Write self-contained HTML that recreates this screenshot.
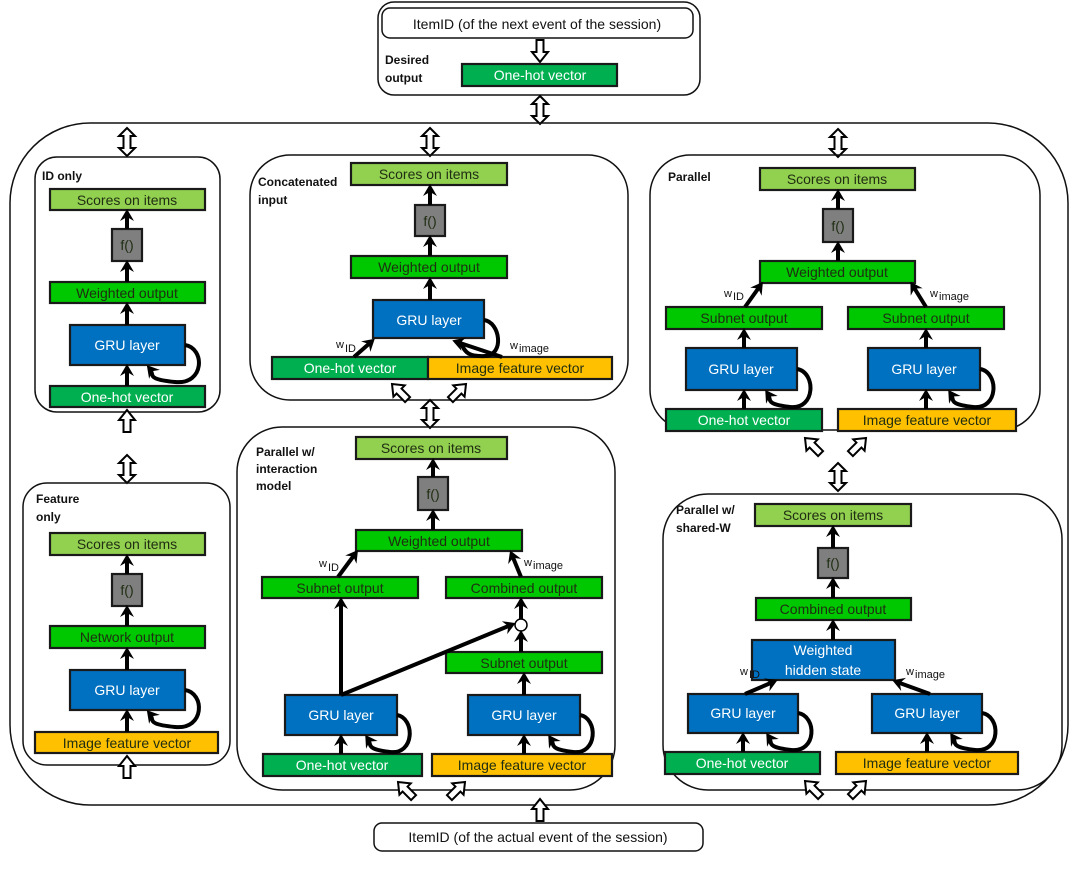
<!DOCTYPE html>
<html><head><meta charset="utf-8"><style>
html,body{margin:0;padding:0;background:#fff;}
svg{display:block;}
text{font-family:"Liberation Sans",sans-serif;}
.t{font-size:14px;text-anchor:middle;dominant-baseline:central;}
.w{fill:#fff}.d{fill:#1f2d12}
.lb{font-size:12px;font-weight:bold;fill:#111}
.sub{font-size:11px;fill:#111}
.bx{stroke:#1a1a1a;stroke-width:2.2}
.ln{stroke:#000;stroke-width:4;fill:none}
.pn{fill:none;stroke:#111;stroke-width:1.5}
.ha{fill:#fff;stroke:#000;stroke-width:2}
</style></head><body>
<svg width="1080" height="879" viewBox="0 0 1080 879" xmlns="http://www.w3.org/2000/svg">
<defs>
<marker id="ah" markerUnits="userSpaceOnUse" markerWidth="16" markerHeight="16" refX="8" refY="8" orient="auto">
<path d="M1,1 L13,8 L1,15 L5,8 Z" fill="#000"/>
</marker>
<g id="up"><polygon class="ha" points="-8,10 0,0 8,10 3.5,10 3.5,22 -3.5,22 -3.5,10"/></g>
<g id="dn"><polygon class="ha" points="-8,12 0,22 8,12 3.5,12 3.5,0 -3.5,0 -3.5,12"/></g>
<g id="dbl"><polygon class="ha" points="0,0 8,8 3.5,8 3.5,20 8,20 0,28 -8,20 -3.5,20 -3.5,8 -8,8"/></g>
</defs>

<!-- top -->
<rect class="pn" x="378" y="2" width="322" height="93" rx="16"/>
<rect class="pn" x="382" y="8" width="311" height="30" rx="8"/>
<text class="t" x="537" y="24" fill="#111">ItemID (of the next event of the session)</text>
<use href="#dn" x="540" y="40"/>
<text class="lb" x="385" y="64">Desired</text><text class="lb" x="385" y="82">output</text>
<rect class="bx" x="462" y="64" width="155" height="22" fill="#00B050"/>
<text class="t w" x="540" y="75">One-hot vector</text>
<use href="#dbl" x="540" y="96"/>

<!-- big -->
<rect class="pn" x="10" y="123" width="1058" height="682" rx="80"/>
<use href="#dbl" x="127" y="128"/>
<use href="#dbl" x="430" y="128"/>
<use href="#dbl" x="838" y="129"/>

<!-- ID only -->
<rect class="pn" x="35" y="157" width="185" height="255" rx="22"/>
<text class="lb" x="42" y="180">ID only</text>
<rect class="bx" x="50" y="189" width="155" height="21" fill="#92D050"/><text class="t d" x="127" y="200">Scores on items</text>
<rect class="bx" x="112" y="229" width="30" height="32" fill="#7F7F7F"/><text class="t d" x="127" y="245">f()</text>
<rect class="bx" x="50" y="282" width="155" height="21" fill="#00C800"/><text class="t d" x="127" y="293">Weighted output</text>
<rect class="bx" x="70" y="325" width="115" height="40" fill="#0070C0"/><text class="t w" x="127" y="345">GRU layer</text>
<rect class="bx" x="50" y="386" width="155" height="21" fill="#00B050"/><text class="t w" x="127" y="397">One-hot vector</text>
<line class="ln" x1="127" y1="229" x2="127" y2="214" marker-end="url(#ah)"/>
<line class="ln" x1="127" y1="282" x2="127" y2="265" marker-end="url(#ah)"/>
<line class="ln" x1="127" y1="325" x2="127" y2="307" marker-end="url(#ah)"/>
<line class="ln" x1="127" y1="386" x2="127" y2="369" marker-end="url(#ah)"/>
<path class="ln" d="M185,345 C205,348 205,385 175,382 S155,375 150,369" marker-end="url(#ah)"/>
<use href="#up" x="127" y="410"/>
<use href="#dbl" x="127" y="455"/>

<!-- Feature only -->
<rect class="pn" x="23" y="483" width="207" height="282" rx="24"/>
<text class="lb" x="36" y="503">Feature</text><text class="lb" x="36" y="521">only</text>
<rect class="bx" x="50" y="533" width="155" height="22" fill="#92D050"/><text class="t d" x="127" y="544">Scores on items</text>
<rect class="bx" x="112" y="574" width="30" height="32" fill="#7F7F7F"/><text class="t d" x="127" y="590">f()</text>
<rect class="bx" x="50" y="626" width="155" height="22" fill="#00C800"/><text class="t d" x="127" y="637">Network output</text>
<rect class="bx" x="70" y="670" width="115" height="40" fill="#0070C0"/><text class="t w" x="127" y="690">GRU layer</text>
<rect class="bx" x="35" y="732" width="183" height="21" fill="#FFC000"/><text class="t d" x="127" y="743">Image feature vector</text>
<line class="ln" x1="127" y1="574" x2="127" y2="559" marker-end="url(#ah)"/>
<line class="ln" x1="127" y1="626" x2="127" y2="610" marker-end="url(#ah)"/>
<line class="ln" x1="127" y1="670" x2="127" y2="652" marker-end="url(#ah)"/>
<line class="ln" x1="127" y1="732" x2="127" y2="714" marker-end="url(#ah)"/>
<path class="ln" d="M185,690 C205,693 205,730 175,727 S155,720 150,714" marker-end="url(#ah)"/>
<use href="#up" x="127" y="756"/>

<!-- Concatenated -->
<rect class="pn" x="250" y="155" width="378" height="245" rx="40"/>
<text class="lb" x="258" y="186">Concatenated</text><text class="lb" x="258" y="204">input</text>
<rect class="bx" x="351" y="163" width="156" height="22" fill="#92D050"/><text class="t d" x="429" y="174">Scores on items</text>
<rect class="bx" x="415" y="205" width="30" height="31" fill="#7F7F7F"/><text class="t d" x="430" y="221">f()</text>
<rect class="bx" x="351" y="256" width="156" height="22" fill="#00C800"/><text class="t d" x="429" y="267">Weighted output</text>
<rect class="bx" x="373" y="300" width="111" height="38" fill="#0070C0"/><text class="t w" x="429" y="320">GRU layer</text>
<rect class="bx" x="272" y="357" width="156" height="22" fill="#00B050"/><text class="t w" x="350" y="368">One-hot vector</text>
<rect class="bx" x="428" y="357" width="184" height="22" fill="#FFC000"/><text class="t d" x="520" y="368">Image feature vector</text>
<line class="ln" x1="430" y1="205" x2="430" y2="189" marker-end="url(#ah)"/>
<line class="ln" x1="430" y1="256" x2="430" y2="240" marker-end="url(#ah)"/>
<line class="ln" x1="430" y1="300" x2="430" y2="282" marker-end="url(#ah)"/>
<line class="ln" x1="354" y1="357" x2="371" y2="342" marker-end="url(#ah)"/>
<line class="ln" x1="502" y1="357" x2="457" y2="342" marker-end="url(#ah)"/>
<path class="ln" d="M484,320 C500,322 505,355 485,356 S465,350 460,342"/>
<text class="sub" x="336" y="348">w</text><text class="sub" x="345" y="352" font-size="9">ID</text>
<text class="sub" x="510" y="349">w</text><text class="sub" x="519" y="352" font-size="9">image</text>
<use href="#up" x="0" y="0" transform="translate(392,384) rotate(-45)"/>
<use href="#up" x="0" y="0" transform="translate(466,384) rotate(45)"/>
<use href="#dbl" x="430" y="400"/>

<!-- Parallel w/ interaction -->
<rect class="pn" x="237" y="427" width="378" height="363" rx="45"/>
<text class="lb" x="256" y="456">Parallel w/</text><text class="lb" x="256" y="473">interaction</text><text class="lb" x="256" y="490">model</text>
<rect class="bx" x="356" y="437" width="151" height="22" fill="#92D050"/><text class="t d" x="431" y="448">Scores on items</text>
<rect class="bx" x="418" y="477" width="30" height="33" fill="#7F7F7F"/><text class="t d" x="433" y="494">f()</text>
<rect class="bx" x="356" y="530" width="166" height="21" fill="#00C800"/><text class="t d" x="439" y="541">Weighted output</text>
<rect class="bx" x="262" y="577" width="156" height="21" fill="#00C800"/><text class="t d" x="340" y="588">Subnet output</text>
<rect class="bx" x="446" y="577" width="156" height="21" fill="#00C800"/><text class="t d" x="524" y="588">Combined output</text>
<circle cx="521" cy="625" r="6" fill="#fff" stroke="#000" stroke-width="1.5"/>
<rect class="bx" x="446" y="652" width="156" height="21" fill="#00C800"/><text class="t d" x="524" y="663">Subnet output</text>
<rect class="bx" x="285" y="695" width="112" height="40" fill="#0070C0"/><text class="t w" x="341" y="715">GRU layer</text>
<rect class="bx" x="468" y="695" width="112" height="40" fill="#0070C0"/><text class="t w" x="524" y="715">GRU layer</text>
<rect class="bx" x="263" y="754" width="159" height="22" fill="#00B050"/><text class="t w" x="342" y="765">One-hot vector</text>
<rect class="bx" x="432" y="754" width="180" height="22" fill="#FFC000"/><text class="t d" x="522" y="765">Image feature vector</text>
<line class="ln" x1="433" y1="477" x2="433" y2="463" marker-end="url(#ah)"/>
<line class="ln" x1="433" y1="530" x2="433" y2="514" marker-end="url(#ah)"/>
<line class="ln" x1="338" y1="577" x2="355" y2="554" marker-end="url(#ah)"/>
<line class="ln" x1="521" y1="577" x2="512" y2="555" marker-end="url(#ah)"/>
<line class="ln" x1="341" y1="695" x2="341" y2="602" marker-end="url(#ah)"/>
<line class="ln" x1="341" y1="695" x2="511" y2="625" marker-end="url(#ah)"/>
<line class="ln" x1="521" y1="619" x2="521" y2="602" marker-end="url(#ah)"/>
<line class="ln" x1="521" y1="652" x2="521" y2="635" marker-end="url(#ah)"/>
<line class="ln" x1="524" y1="695" x2="524" y2="677" marker-end="url(#ah)"/>
<line class="ln" x1="341" y1="754" x2="341" y2="739" marker-end="url(#ah)"/>
<line class="ln" x1="524" y1="754" x2="524" y2="739" marker-end="url(#ah)"/>
<path class="ln" d="M397,715 C415,718 415,755 390,752 S372,745 368,739" marker-end="url(#ah)"/>
<path class="ln" d="M580,715 C598,718 598,755 573,752 S555,745 551,739" marker-end="url(#ah)"/>
<text class="sub" x="319" y="567">w</text><text class="sub" x="328" y="571" font-size="9">ID</text>
<text class="sub" x="524" y="566">w</text><text class="sub" x="533" y="569" font-size="9">image</text>
<use href="#up" transform="translate(398,782) rotate(-45)"/>
<use href="#up" transform="translate(465,782) rotate(45)"/>

<!-- Parallel -->
<rect class="pn" x="650" y="155" width="390" height="275" rx="40"/>
<text class="lb" x="668" y="181">Parallel</text>
<rect class="bx" x="760" y="168" width="155" height="22" fill="#92D050"/><text class="t d" x="837" y="179">Scores on items</text>
<rect class="bx" x="823" y="209" width="30" height="33" fill="#7F7F7F"/><text class="t d" x="838" y="226">f()</text>
<rect class="bx" x="760" y="261" width="155" height="22" fill="#00C800"/><text class="t d" x="837" y="272">Weighted output</text>
<rect class="bx" x="666" y="307" width="156" height="22" fill="#00C800"/><text class="t d" x="744" y="318">Subnet output</text>
<rect class="bx" x="848" y="307" width="156" height="22" fill="#00C800"/><text class="t d" x="926" y="318">Subnet output</text>
<rect class="bx" x="686" y="348" width="111" height="42" fill="#0070C0"/><text class="t w" x="741" y="369">GRU layer</text>
<rect class="bx" x="868" y="348" width="112" height="42" fill="#0070C0"/><text class="t w" x="924" y="369">GRU layer</text>
<rect class="bx" x="666" y="409" width="156" height="22" fill="#00B050"/><text class="t w" x="744" y="420">One-hot vector</text>
<rect class="bx" x="838" y="409" width="178" height="22" fill="#FFC000"/><text class="t d" x="927" y="420">Image feature vector</text>
<line class="ln" x1="838" y1="209" x2="838" y2="194" marker-end="url(#ah)"/>
<line class="ln" x1="838" y1="261" x2="838" y2="246" marker-end="url(#ah)"/>
<line class="ln" x1="745" y1="307" x2="760" y2="286" marker-end="url(#ah)"/>
<line class="ln" x1="926" y1="307" x2="913" y2="286" marker-end="url(#ah)"/>
<line class="ln" x1="744" y1="348" x2="744" y2="333" marker-end="url(#ah)"/>
<line class="ln" x1="926" y1="348" x2="926" y2="333" marker-end="url(#ah)"/>
<line class="ln" x1="744" y1="409" x2="744" y2="394" marker-end="url(#ah)"/>
<line class="ln" x1="926" y1="409" x2="926" y2="394" marker-end="url(#ah)"/>
<path class="ln" d="M797,369 C816,372 816,410 790,407 S772,400 768,394" marker-end="url(#ah)"/>
<path class="ln" d="M980,369 C999,372 999,410 973,407 S955,400 951,394" marker-end="url(#ah)"/>
<text class="sub" x="724" y="297">w</text><text class="sub" x="733" y="300" font-size="9">ID</text>
<text class="sub" x="930" y="297">w</text><text class="sub" x="939" y="300" font-size="9">image</text>
<use href="#up" transform="translate(805,438) rotate(-45)"/>
<use href="#up" transform="translate(866,438) rotate(45)"/>
<use href="#dbl" x="838" y="463"/>

<!-- Shared-W -->
<rect class="pn" x="663" y="494" width="399" height="296" rx="45"/>
<text class="lb" x="676" y="514">Parallel w/</text><text class="lb" x="676" y="532">shared-W</text>
<rect class="bx" x="755" y="504" width="156" height="22" fill="#92D050"/><text class="t d" x="833" y="515">Scores on items</text>
<rect class="bx" x="818" y="548" width="30" height="30" fill="#7F7F7F"/><text class="t d" x="833" y="563">f()</text>
<rect class="bx" x="756" y="598" width="155" height="22" fill="#00C800"/><text class="t d" x="833" y="609">Combined output</text>
<rect class="bx" x="752" y="640" width="143" height="40" fill="#0070C0"/>
<text class="t w" x="823" y="650">Weighted</text><text class="t w" x="823" y="670">hidden state</text>
<rect class="bx" x="688" y="694" width="110" height="39" fill="#0070C0"/><text class="t w" x="743" y="713">GRU layer</text>
<rect class="bx" x="872" y="694" width="110" height="39" fill="#0070C0"/><text class="t w" x="927" y="713">GRU layer</text>
<rect class="bx" x="665" y="752" width="155" height="22" fill="#00B050"/><text class="t w" x="742" y="763">One-hot vector</text>
<rect class="bx" x="836" y="752" width="182" height="22" fill="#FFC000"/><text class="t d" x="927" y="763">Image feature vector</text>
<line class="ln" x1="833" y1="548" x2="833" y2="530" marker-end="url(#ah)"/>
<line class="ln" x1="833" y1="598" x2="833" y2="582" marker-end="url(#ah)"/>
<line class="ln" x1="833" y1="640" x2="833" y2="624" marker-end="url(#ah)"/>
<line class="ln" x1="745" y1="694" x2="773" y2="682" marker-end="url(#ah)"/>
<line class="ln" x1="930" y1="694" x2="897" y2="682" marker-end="url(#ah)"/>
<line class="ln" x1="743" y1="752" x2="743" y2="737" marker-end="url(#ah)"/>
<line class="ln" x1="927" y1="752" x2="927" y2="737" marker-end="url(#ah)"/>
<path class="ln" d="M798,713 C817,716 817,753 791,750 S773,743 769,737" marker-end="url(#ah)"/>
<path class="ln" d="M982,713 C1001,716 1001,753 975,750 S957,743 953,737" marker-end="url(#ah)"/>
<text class="sub" x="740" y="675">w</text><text class="sub" x="749" y="678" font-size="9">ID</text>
<text class="sub" x="906" y="675">w</text><text class="sub" x="915" y="678" font-size="9">image</text>
<use href="#up" transform="translate(805,781) rotate(-45)"/>
<use href="#up" transform="translate(866,781) rotate(45)"/>

<!-- bottom -->
<use href="#up" x="540" y="799"/>
<rect class="pn" x="374" y="823" width="329" height="28" rx="8"/>
<text class="t" x="538" y="837" fill="#111">ItemID (of the actual event of the session)</text>
</svg>
</body></html>
